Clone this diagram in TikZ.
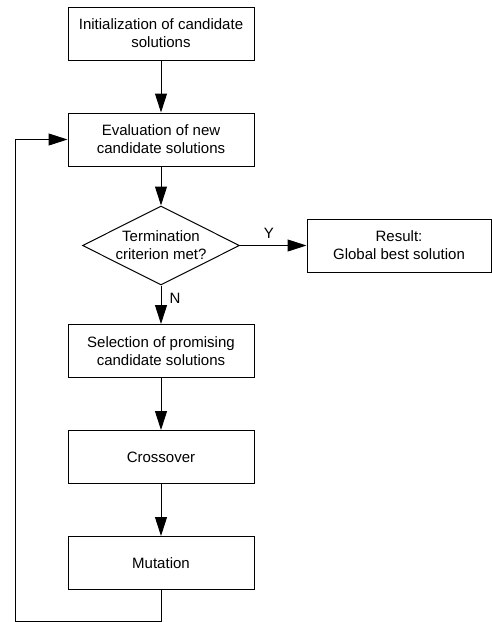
\documentclass[tikz,border=0pt]{standalone}
\usepackage{fontspec}
\setmainfont{Liberation Sans}
\usetikzlibrary{shapes.geometric,arrows.meta}
\begin{document}
\begin{tikzpicture}[x=1pt,y=-1pt,
  font=\fontsize{15}{18}\selectfont,
  procbox/.style={draw, line width=1pt, minimum width=186pt, minimum height=53pt, inner sep=0pt, align=center},
  decbox/.style={draw, diamond, line width=1pt, minimum width=157pt, minimum height=79pt, inner sep=0pt},
  flow/.style={line width=1pt, -{Triangle[length=19pt,width=12pt]}},
  lbl/.style={inner sep=0pt}
]
\useasboundingbox (0,0) rectangle (492,622);
\node[procbox] (init) at (161,33.5) {Initialization of candidate\\solutions};
\node[procbox] (eval) at (161,139.5) {Evaluation of new\\candidate solutions};
\node[decbox] (term) at (161,245.5) {};
\node[align=center, inner sep=0pt] (termtxt) at (term.center) {Termination\\criterion met?};
\node[procbox, minimum width=184pt] (res) at (399,245.5) {Result:\\Global best solution};
\node[procbox] (sel) at (161,351) {Selection of promising\\candidate solutions};
\node[procbox] (cross) at (161,457) {Crossover};
\node[procbox] (mut) at (161,563) {Mutation};
\coordinate (lb) at (15,621);
\node[lbl] (ylab) at (269,233) {Y};
\node[lbl] (nlab) at (175,298) {N};
\draw[flow] (init) -- (eval);
\draw[flow] (eval) -- (term.north);
\draw[flow] (term.east) -- (res.west);
\draw[flow] (term.south) -- (sel.north);
\draw[flow] (sel) -- (cross);
\draw[flow] (cross) -- (mut);
\draw[flow] (mut.south) |- (lb) |- (eval.west);
\end{tikzpicture}
\end{document}
